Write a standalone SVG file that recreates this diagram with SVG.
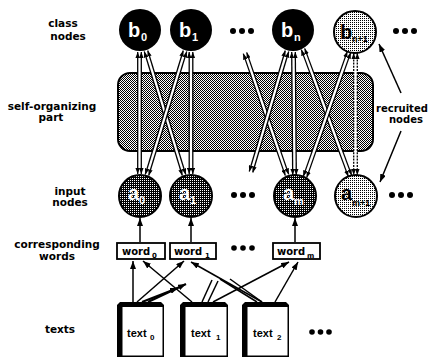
<svg xmlns="http://www.w3.org/2000/svg" width="429" height="358" viewBox="0 0 429 358">
<style>
.lbl{font-family:"DejaVu Sans",sans-serif;font-weight:bold;font-size:10.5px;fill:#000;text-anchor:middle}
.big{font-family:"Liberation Sans",Arial,sans-serif;font-weight:bold;font-size:20px}
.sub{font-family:"Liberation Sans",Arial,sans-serif;font-weight:bold;font-size:11px}
.sub2{font-family:"Liberation Sans",Arial,sans-serif;font-weight:bold;font-size:9px}
.wtxt{font-family:"DejaVu Sans",sans-serif;font-weight:bold;font-size:10px;fill:#000}
.wsub{font-family:"DejaVu Sans",sans-serif;font-weight:bold;font-size:7px;fill:#000}
.ttxt{font-family:"Liberation Sans",Arial,sans-serif;font-weight:bold;font-size:11px;fill:#000}
.tsub{font-family:"Liberation Sans",Arial,sans-serif;font-weight:bold;font-size:8px;fill:#000}
.wbox{fill:#fff;stroke:#000;stroke-width:1.8}
.under{stroke:#fff;stroke-width:3.4;fill:none}
.ln{stroke:#000;stroke-width:1.3;fill:none;marker-start:url(#ah);marker-end:url(#ah)}
.dash{stroke-dasharray:2 1.2}
.arr{stroke:#000;stroke-width:1.5;fill:none;marker-end:url(#ah2)}
.thk{stroke:#000;stroke-width:2.2;fill:none;marker-end:url(#ah2)}
.plain{stroke:#000;stroke-width:1.5;fill:none}
.dot{fill:#000}
</style>
<defs>
<pattern id="p50" width="2" height="2" patternUnits="userSpaceOnUse"><rect width="2" height="2" fill="#fff"/><rect width="1" height="1" fill="#000"/><rect x="1" y="1" width="1" height="1" fill="#000"/></pattern>
<pattern id="p75" width="2" height="2" patternUnits="userSpaceOnUse"><rect width="2" height="2" fill="#000"/><rect width="1" height="1" fill="#fff"/></pattern>
<pattern id="p25" width="2" height="2" patternUnits="userSpaceOnUse"><rect width="2" height="2" fill="#fff"/><rect width="1" height="1" fill="#000"/></pattern>
<marker id="ah" viewBox="0 0 8 6" refX="8" refY="3" markerWidth="6" markerHeight="4.5" markerUnits="userSpaceOnUse" orient="auto-start-reverse"><path d="M0,0 L8,3 L0,6 z" fill="#000"/></marker>
<marker id="ah2" viewBox="0 0 8 6" refX="8" refY="3" markerWidth="8" markerHeight="6" markerUnits="userSpaceOnUse" orient="auto"><path d="M0,0 L8,3 L0,6 z" fill="#000"/></marker>
</defs>
<rect width="429" height="358" fill="#fff"/>

<g id="labels">
<text class="lbl" x="63" y="27">class</text>
<text class="lbl" x="68" y="40">nodes</text>
<text class="lbl" x="52" y="110">self-organizing</text>
<text class="lbl" x="51" y="121">part</text>
<text class="lbl" x="70" y="195">input</text>
<text class="lbl" x="70" y="206">nodes</text>
<text class="lbl" x="57" y="248">corresponding</text>
<text class="lbl" x="57" y="260">words</text>
<text class="lbl" x="60" y="333">texts</text>
<text class="lbl" x="376" y="112" style="text-anchor:start;font-size:10px">recruited</text>
<text class="lbl" x="389" y="123" style="text-anchor:start;font-size:10px">nodes</text>
</g>

<g id="self-organizing-part">
<rect x="118" y="73" width="255" height="78" rx="12" fill="url(#p50)" stroke="#000" stroke-width="2"/>
</g>

<g id="class-nodes">
<g id="b0"><circle cx="140" cy="30" r="21" fill="#000"/><text class="big" x="128" y="37" fill="#fff">b</text><text class="sub" x="141" y="41" fill="#fff">0</text></g>
<g id="b1"><circle cx="191" cy="30" r="21" fill="#000"/><text class="big" x="179" y="37" fill="#fff">b</text><text class="sub" x="192" y="41" fill="#fff">1</text></g>
<g id="bn"><circle cx="293" cy="30" r="21" fill="#000"/><text class="big" x="281" y="37" fill="#fff">b</text><text class="sub" x="294" y="41" fill="#fff">n</text></g>
<g id="bn1"><circle cx="355" cy="32" r="21" fill="url(#p25)" stroke="#000" stroke-width="2"/><text class="big" x="340" y="39" fill="#000">b</text><text class="sub2" x="352" y="42" fill="#000">n+1</text></g>
</g>

<g id="input-nodes">
<g id="a0"><circle cx="140" cy="196" r="21" fill="url(#p75)" stroke="#000" stroke-width="2"/><text class="big" x="128" y="200" fill="#fff">a</text><text class="sub" x="139" y="204" fill="#fff">0</text></g>
<g id="a1"><circle cx="191" cy="196" r="21" fill="url(#p75)" stroke="#000" stroke-width="2"/><text class="big" x="179" y="200" fill="#fff">a</text><text class="sub" x="190" y="204" fill="#fff">1</text></g>
<g id="am"><circle cx="295" cy="196" r="21" fill="url(#p75)" stroke="#000" stroke-width="2"/><text class="big" x="283" y="200" fill="#fff">a</text><text class="sub" x="294" y="205" fill="#fff">m</text></g>
<g id="am1"><circle cx="356" cy="196" r="21" fill="url(#p25)" stroke="#000" stroke-width="2"/><text class="big" x="341" y="200" fill="#000">a</text><text class="sub2" x="352" y="206" fill="#000">m+1</text></g>
</g>

<g id="word-nodes">
<g id="word0"><rect class="wbox" x="117" y="243" width="48" height="16"/><text class="wtxt" x="122" y="255">word</text><text class="wsub" x="152" y="258">0</text></g>
<g id="word1"><rect class="wbox" x="170" y="243" width="46" height="16"/><text class="wtxt" x="174" y="255">word</text><text class="wsub" x="205" y="258">1</text></g>
<g id="wordm"><rect class="wbox" x="273" y="243" width="47" height="16"/><text class="wtxt" x="277" y="255">word</text><text class="wsub" x="307" y="258">m</text></g>
</g>

<g id="text-nodes">
<g id="text0"><path d="M117,305 L120,302 L161,302 L164,305 L164,357 L117,357 Z" fill="#000"/><rect x="122.5" y="307" width="40" height="48.5" fill="#fff"/><text class="ttxt" x="127" y="337">text</text><text class="tsub" x="150" y="340">0</text></g>
<g id="text1"><path d="M180,305 L183,302 L225,302 L228,305 L228,357 L180,357 Z" fill="#000"/><rect x="185.5" y="307" width="41" height="48.5" fill="#fff"/><text class="ttxt" x="191" y="337">text</text><text class="tsub" x="216" y="340">1</text></g>
<g id="text2"><path d="M242,305 L245,302 L286,302 L289,305 L289,357 L242,357 Z" fill="#000"/><rect x="247.5" y="307" width="40" height="48.5" fill="#fff"/><text class="ttxt" x="253" y="337">text</text><text class="tsub" x="277" y="340">2</text></g>
</g>

<g id="ellipses">
<circle class="dot" cx="233" cy="31" r="3"/><circle class="dot" cx="242" cy="31" r="3"/><circle class="dot" cx="251" cy="31" r="3"/>
<circle class="dot" cx="396" cy="31" r="3"/><circle class="dot" cx="405" cy="31" r="3"/><circle class="dot" cx="414" cy="31" r="3"/>
<circle class="dot" cx="234" cy="195" r="3"/><circle class="dot" cx="243" cy="195" r="3"/><circle class="dot" cx="252" cy="195" r="3"/>
<circle class="dot" cx="392" cy="195" r="3"/><circle class="dot" cx="401" cy="195" r="3"/><circle class="dot" cx="410" cy="195" r="3"/>
<circle class="dot" cx="234" cy="248" r="2.8"/><circle class="dot" cx="243" cy="248" r="2.8"/><circle class="dot" cx="252" cy="248" r="2.8"/>
<circle class="dot" cx="312" cy="332" r="2.8"/><circle class="dot" cx="320.5" cy="332" r="2.8"/><circle class="dot" cx="329" cy="332" r="2.8"/>
</g>

<g id="connectors">
<line class="under" x1="139.5" y1="57" x2="139.5" y2="169"/>
<line class="ln" x1="137.7" y1="52" x2="137.7" y2="174"/>
<line class="ln" x1="141.3" y1="52" x2="141.3" y2="174"/>

<line class="under" x1="147.5" y1="55.8" x2="182.5" y2="170.2"/>
<line class="ln" x1="144.28" y1="51.53" x2="182.28" y2="175.53"/>
<line class="ln" x1="147.72" y1="50.47" x2="185.72" y2="174.47"/>

<line class="under" x1="183.5" y1="55.8" x2="148.5" y2="170.2"/>
<line class="ln" x1="183.28" y1="50.47" x2="145.28" y2="174.47"/>
<line class="ln" x1="186.72" y1="51.53" x2="148.72" y2="175.53"/>

<line class="under" x1="191" y1="57" x2="191" y2="169"/>
<line class="ln" x1="189.2" y1="52" x2="189.2" y2="174"/>
<line class="ln" x1="192.8" y1="52" x2="192.8" y2="174"/>

<line class="under" x1="246.6" y1="57.7" x2="285.4" y2="170.3"/>
<line class="ln" x1="243.3" y1="53.59" x2="285.3" y2="175.59"/>
<line class="ln" x1="246.7" y1="52.41" x2="288.7" y2="174.41"/>

<line class="under" x1="285.6" y1="55.8" x2="252.4" y2="167.2"/>
<line class="ln" x1="285.27" y1="50.49" x2="249.27" y2="171.49"/>
<line class="ln" x1="288.73" y1="51.51" x2="252.73" y2="172.51"/>

<line class="under" x1="293.5" y1="57" x2="294.5" y2="170"/>
<line class="ln" x1="291.7" y1="52" x2="292.7" y2="175"/>
<line class="ln" x1="295.3" y1="52" x2="296.3" y2="175"/>

<line class="under" x1="304.7" y1="53.7" x2="348.3" y2="171.3"/>
<line class="ln" x1="301.31" y1="49.62" x2="348.31" y2="176.62"/>
<line class="ln" x1="304.69" y1="48.38" x2="351.69" y2="175.38"/>

<line class="under" x1="347.3" y1="56.7" x2="306.7" y2="172.3"/>
<line class="ln" x1="347.3" y1="51.4" x2="303.3" y2="176.4"/>
<line class="ln" x1="350.7" y1="52.6" x2="306.7" y2="177.6"/>

<line class="under" x1="355.5" y1="58" x2="355.5" y2="170"/>
<line class="ln dash" x1="353.7" y1="53" x2="353.7" y2="175"/>
<line class="ln dash" x1="357.3" y1="53" x2="357.3" y2="175"/>

<line class="arr" x1="140" y1="242" x2="140" y2="218"/>
<line class="arr" x1="191" y1="242" x2="191" y2="218"/>
<line class="arr" x1="295" y1="242" x2="295" y2="218"/>

<line class="arr" x1="401" y1="93" x2="379" y2="44"/>
<line class="arr" x1="401" y1="131" x2="380" y2="182"/>

<line class="arr" x1="133" y1="302" x2="133" y2="261"/>
<line class="arr" x1="192" y1="302" x2="143" y2="261"/>
<line class="arr" x1="137" y1="302" x2="184" y2="261"/>
<line class="thk" x1="142" y1="302" x2="178" y2="288"/>
<line class="thk" x1="148" y1="302" x2="186" y2="284"/>
<line class="arr" x1="262" y1="302" x2="191" y2="262"/>
<line class="plain" x1="202" y1="302" x2="212" y2="280"/>
<line class="plain" x1="208" y1="302" x2="218" y2="281"/>
<line class="plain" x1="220" y1="279" x2="257" y2="302"/>
<line class="plain" x1="230" y1="279" x2="262" y2="302"/>
<line class="arr" x1="213" y1="302" x2="289" y2="262"/>
<line class="arr" x1="275" y1="302" x2="298" y2="262"/>
</g>
</svg>
